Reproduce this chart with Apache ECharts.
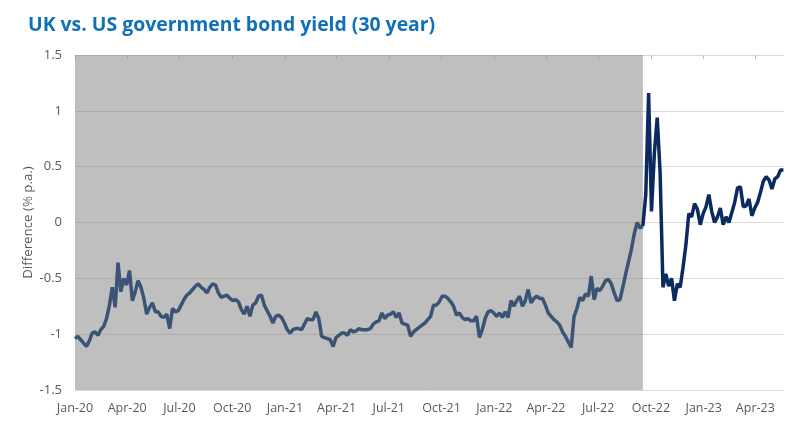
<!DOCTYPE html>
<html>
<head>
<meta charset="utf-8">
<script src="https://cdn.jsdelivr.net/npm/echarts@6/dist/echarts.min.js"></script>
<style>
  html, body { margin: 0; padding: 0; background: #ffffff; }
  #chart { width: 800px; height: 426px; }
</style>
</head>
<body>
<div id="chart"></div>
<script>
// ---- data ----
const titleText = 'UK vs. US government bond yield (30 year)';
const yAxisName = 'Difference (% p.a.)';
const startDate = '2020-01-01';     // first observation
const stepDays = 5;                 // spacing between observations (days)
const axisStart = '2020-01-01';
const axisEnd = '2023-05-21';
const shadeEnd = '2022-09-17';      // end of shaded period
const splitIndex = 198;             // observation at shadeEnd
const tickDates = ['2020-01-01','2020-04-01','2020-07-01','2020-10-01','2021-01-01','2021-04-01','2021-07-01','2021-10-01','2022-01-01','2022-04-01','2022-07-01','2022-10-01','2023-01-01','2023-04-01'];
const tickLabels = ['Jan-20','Apr-20','Jul-20','Oct-20','Jan-21','Apr-21','Jul-21','Oct-21','Jan-22','Apr-22','Jul-22','Oct-22','Jan-23','Apr-23'];
const yTicks = [-1.5, -1, -0.5, 0, 0.5, 1, 1.5];
const spread = [
  -1.04,-1.02,-1.05,-1.08,-1.11,-1.06,-0.99,-0.98,-1.01,-0.96,
  -0.93,-0.86,-0.74,-0.58,-0.76,-0.36,-0.62,-0.50,-0.56,-0.43,
  -0.70,-0.62,-0.52,-0.58,-0.68,-0.82,-0.76,-0.72,-0.80,-0.80,
  -0.84,-0.85,-0.82,-0.95,-0.77,-0.80,-0.79,-0.74,-0.69,-0.65,
  -0.63,-0.60,-0.57,-0.55,-0.58,-0.60,-0.63,-0.58,-0.55,-0.56,
  -0.63,-0.67,-0.66,-0.65,-0.68,-0.70,-0.69,-0.71,-0.78,-0.82,
  -0.75,-0.84,-0.74,-0.72,-0.66,-0.65,-0.74,-0.79,-0.84,-0.90,
  -0.84,-0.83,-0.85,-0.90,-0.96,-0.99,-0.96,-0.95,-0.95,-0.96,
  -0.91,-0.86,-0.87,-0.87,-0.80,-0.86,-1.02,-1.03,-1.04,-1.05,
  -1.11,-1.03,-1.01,-0.99,-0.99,-1.01,-0.96,-0.98,-0.97,-0.95,
  -0.96,-0.96,-0.96,-0.95,-0.91,-0.89,-0.88,-0.81,-0.86,-0.83,
  -0.82,-0.80,-0.85,-0.81,-0.90,-0.91,-0.92,-1.02,-0.98,-0.96,
  -0.94,-0.92,-0.90,-0.87,-0.84,-0.74,-0.74,-0.71,-0.66,-0.66,
  -0.68,-0.71,-0.75,-0.83,-0.81,-0.85,-0.87,-0.86,-0.88,-0.88,
  -0.84,-1.03,-0.96,-0.86,-0.80,-0.79,-0.81,-0.84,-0.81,-0.85,
  -0.80,-0.85,-0.70,-0.75,-0.70,-0.66,-0.75,-0.70,-0.60,-0.72,
  -0.68,-0.66,-0.68,-0.68,-0.74,-0.81,-0.84,-0.87,-0.89,-0.92,
  -0.98,-1.02,-1.07,-1.12,-0.84,-0.77,-0.67,-0.70,-0.64,-0.66,
  -0.48,-0.69,-0.59,-0.61,-0.57,-0.52,-0.51,-0.55,-0.63,-0.70,
  -0.69,-0.58,-0.46,-0.35,-0.24,-0.10,0.00,-0.05,-0.03,0.25,
  1.16,0.10,0.62,0.94,0.45,-0.58,-0.46,-0.57,-0.50,-0.70,
  -0.55,-0.58,-0.40,-0.20,0.08,0.05,0.17,0.12,-0.02,0.08,
  0.14,0.25,0.10,0.00,0.05,0.13,-0.02,0.05,0.00,0.09,
  0.18,0.31,0.32,0.14,0.15,0.21,0.06,0.13,0.18,0.27,
  0.37,0.41,0.38,0.30,0.39,0.41,0.47,0.47
];

// ---- build ----
const DAY = 86400000;
const ts = s => Date.parse(s + 'T00:00:00Z');
const t0 = ts(startDate);
const points = spread.map((v, i) => [t0 + i * stepDays * DAY, v]);
const before = points.slice(0, splitIndex + 1);
const after = points.slice(splitIndex);
const tickTimes = tickDates.map(ts);

const font = '"Open Sans", "Noto Sans", sans-serif';
const chart = echarts.init(document.getElementById('chart'), null, { renderer: 'canvas' });
chart.setOption({
  animation: false,
  backgroundColor: '#ffffff',
  title: {
    text: titleText,
    left: 23,
    top: 11,
    textStyle: { color: '#1071b8', fontFamily: font, fontWeight: 'bold', fontSize: 19.4 }
  },
  grid: { left: 75, right: 16, top: 55, bottom: 36, containLabel: false },
  xAxis: [
    {
      type: 'value',
      min: ts(axisStart),
      max: ts(axisEnd),
      position: 'bottom',
      axisLine: { show: false },
      axisTick: { show: false },
      splitLine: { show: false },
      axisLabel: {
        customValues: tickTimes,
        color: '#595959',
        fontFamily: font,
        fontSize: 12.5,
        margin: 12,
        hideOverlap: false,
        showMinLabel: true,
        showMaxLabel: true,
        formatter: function (val) {
          const i = tickTimes.indexOf(val);
          return i >= 0 ? tickLabels[i] : '';
        }
      }
    },
    {
      type: 'value',
      min: ts(axisStart),
      max: ts(axisEnd),
      position: 'top',
      axisLine: { show: true, onZero: true, lineStyle: { color: '#d9d9d9', width: 1 } },
      axisTick: { show: true, inside: true, length: 4, customValues: tickTimes, lineStyle: { color: '#bfbfbf' } },
      axisLabel: { show: false },
      splitLine: { show: false }
    }
  ],
  yAxis: {
    type: 'value',
    min: -1.5,
    max: 1.5,
    interval: 0.5,
    name: yAxisName,
    nameLocation: 'middle',
    nameGap: 40,
    nameRotate: 90,
    nameMoveOverlap: false,
    nameTextStyle: { color: '#595959', fontFamily: font, fontSize: 13.3 },
    axisLine: { show: false },
    axisTick: { show: false },
    splitLine: { show: true, lineStyle: { color: '#d9d9d9', width: 1 } },
    axisLabel: {
      color: '#595959',
      fontFamily: font,
      fontSize: 13,
      margin: 13,
      formatter: function (v) {
        return yTicks.indexOf(v) >= 0 ? String(v) : '';
      }
    }
  },
  series: [
    {
      type: 'line',
      xAxisIndex: 0,
      data: before,
      showSymbol: false,
      lineStyle: { color: '#3b5475', width: 3.5 },
      z: 3,
      markArea: {
        silent: true,
        itemStyle: { color: 'rgba(128,128,128,0.5)' },
        data: [[{ xAxis: ts(axisStart) }, { xAxis: ts(shadeEnd) }]]
      }
    },
    {
      type: 'line',
      xAxisIndex: 0,
      data: after,
      showSymbol: false,
      lineStyle: { color: '#0b2a60', width: 3.5 },
      z: 4
    }
  ]
});
</script>
</body>
</html>
